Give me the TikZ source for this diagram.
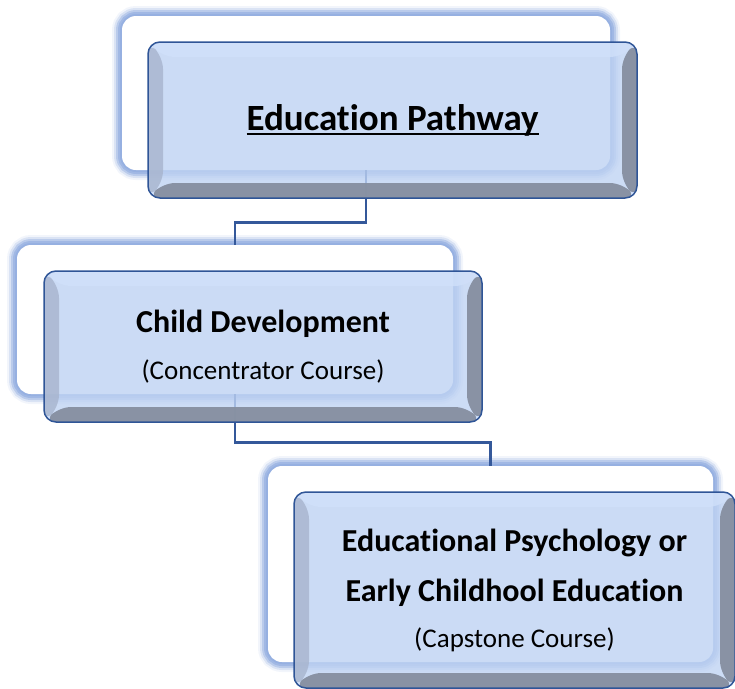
\documentclass[tikz,border=0pt]{standalone}
\usepackage{fontspec}
\setmainfont{Carlito}[Ligatures={NoCommon,NoRequired,NoContextual}]
\usetikzlibrary{positioning}

\definecolor{glowblue}{HTML}{93AEE0}
\definecolor{faceblue}{HTML}{BFD3F3}
\definecolor{bevtop}{HTML}{D0E0FA}
\definecolor{bevleft}{HTML}{A7B4CD}
\definecolor{bevdark}{HTML}{868FA0}
\definecolor{edgeblue}{HTML}{2F5597}
\definecolor{linkblue}{HTML}{34589A}

% heavy underline sitting close to the baseline
\newcommand\headline[1]{\setbox0\hbox{#1}\rlap{\rule[-5pt]{\wd0}{2.2pt}}\box0}

\tikzset{
  backbox/.style={rectangle, rounded corners=14pt, inner sep=0pt, fill=white,
    preaction={draw=glowblue, line width=20pt, draw opacity=0.12},
    preaction={draw=glowblue, line width=16pt, draw opacity=0.25},
    preaction={draw=glowblue, line width=12pt, draw opacity=0.45},
    preaction={draw=glowblue, line width=8pt, draw opacity=0.65},
    preaction={draw=glowblue, line width=4pt, draw opacity=0.8}},
  frontbox/.style={rectangle, rounded corners=12pt, inner sep=0pt, align=center,
    fill=faceblue, fill opacity=0.8, text opacity=1,
    draw=edgeblue, draw opacity=1, line width=1.5pt,
    path picture={
      \coordinate (nw) at (path picture bounding box.north west);
      \coordinate (ne) at (path picture bounding box.north east);
      \coordinate (sw) at (path picture bounding box.south west);
      \coordinate (se) at (path picture bounding box.south east);
      \fill[bevtop, fill opacity=0.8] (nw) -- (ne) -- ([shift={(-15,15)}]ne) -- ([shift={(15,15)}]nw) -- cycle;
      \fill[bevleft, fill opacity=0.8] (nw) -- ([shift={(15,15)}]nw) -- ([shift={(15,-15)}]sw) -- (sw) -- cycle;
      \fill[bevdark, fill opacity=0.95] (ne) -- (se) -- ([shift={(-15,-15)}]se) -- ([shift={(-15,15)}]ne) -- cycle;
      \fill[bevdark, fill opacity=0.95] (sw) -- (se) -- ([shift={(-15,-15)}]se) -- ([shift={(15,-15)}]sw) -- cycle;
    }},
  link/.style={draw=linkblue, line width=2.6pt},
  bigtitle/.style={font=\bfseries\fontsize{37}{44}\selectfont},
  course/.style={font=\bfseries\fontsize{32}{50}\selectfont}
}

\begin{document}
\begin{tikzpicture}[x=1pt, y=-1pt]
  \useasboundingbox (0,0) rectangle (735,688);

  % boxes behind
  \node[backbox, minimum width=488pt, minimum height=154pt] (pathBack) at (366,93) {};
  \node[backbox, minimum width=436pt, minimum height=149pt] (childBack) at (235,319.5) {};
  \node[backbox, minimum width=445pt, minimum height=196pt] (capBack) at (490.5,564) {};

  % elbow connectors
  \draw[link] (pathBack.south) -- ++(0,52) -| (childBack.north);
  \draw[link] (childBack.south) -- ++(0,48) -| (capBack.north);

  % bevelled boxes in front
  \node[frontbox, bigtitle, minimum width=489pt, minimum height=156pt] (path) at (392.5,120)
    {\headline{Education Pathway}};
  \node[frontbox, course, minimum width=438pt, minimum height=151pt] (child) at (263,346.5)
    {Child Development\\[-3pt]{\mdseries\fontsize{27}{30}\selectfont (Concentrator Course)}};
  \node[frontbox, course, minimum width=441pt, minimum height=196pt] (cap) at (514.5,590)
    {Educational Psychology or\\Early Childhool Education\\[-4pt]{\mdseries\fontsize{27}{30}\selectfont (Capstone Course)}};
\end{tikzpicture}
\end{document}
